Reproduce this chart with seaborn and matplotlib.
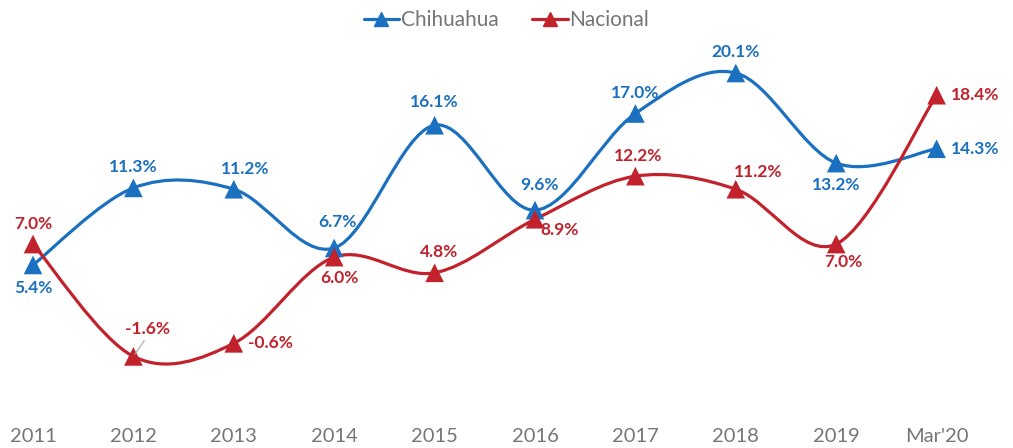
import numpy as np
import pandas as pd
import matplotlib
matplotlib.use("Agg")
import matplotlib.pyplot as plt
from matplotlib.path import Path
from matplotlib.patches import PathPatch
from matplotlib.lines import Line2D
import seaborn as sns

# Growth rates (%) by period
periods = ["2011", "2012", "2013", "2014", "2015", "2016", "2017", "2018", "2019", "Mar'20"]
chihuahua = [5.4, 11.3, 11.2, 6.7, 16.1, 9.6, 17.0, 20.1, 13.2, 14.3]
nacional = [7.0, -1.6, -0.6, 6.0, 4.8, 8.9, 12.2, 11.2, 7.0, 18.4]

BLUE = "#1b70bf"
RED = "#c1222c"
GRAY = "#767676"

sns.set_theme(style="white")
plt.rcParams["font.family"] = ["Lato", "DejaVu Sans"]

fig = plt.figure(figsize=(10.13, 4.48), dpi=100)
ax = fig.add_axes([0, 28 / 448, 1, 420 / 448])

x = np.arange(len(periods))
df = pd.DataFrame({
    "x": np.concatenate([x, x]),
    "value": chihuahua + nacional,
    "serie": ["Chihuahua"] * len(x) + ["Nacional"] * len(x),
})


def smooth_path(xs, ys):
    """Cubic Bezier through every point, tangents from neighbouring points."""
    pts = np.column_stack([xs, ys]).astype(float)
    n = len(pts)
    verts = [pts[0]]
    codes = [Path.MOVETO]
    for i in range(n - 1):
        p0 = pts[max(i - 1, 0)]
        p1 = pts[i]
        p2 = pts[i + 1]
        p3 = pts[min(i + 2, n - 1)]
        c1 = p1 + (p2 - p0) / 6.0
        c2 = p2 - (p3 - p1) / 6.0
        verts += [c1, c2, p2]
        codes += [Path.CURVE4] * 3
    return Path(verts, codes)


for vals, color in [(chihuahua, BLUE), (nacional, RED)]:
    ax.add_patch(PathPatch(smooth_path(x, vals), facecolor="none",
                           edgecolor=color, lw=2.3, zorder=2))

sns.scatterplot(data=df, x="x", y="value", hue="serie",
                palette={"Chihuahua": BLUE, "Nacional": RED},
                marker="^", s=180, edgecolor="none", legend=False,
                ax=ax, zorder=3)

# label offsets in points (dx, dy, ha, va)
lab_c = [(0, -11, "center", "top"), (0, 9, "center", "bottom"),
         (8, 9, "center", "bottom"), (2, 13, "center", "bottom"),
         (0, 11, "center", "bottom"), (3, 12, "center", "bottom"),
         (0, 9, "center", "bottom"), (0, 9, "center", "bottom"),
         (0, -10, "center", "top"), (10, 0, "left", "center")]
lab_n = [(0, 9, "center", "bottom"), (10, 14, "center", "bottom"),
         (10, 0, "left", "center"), (4, -9, "center", "top"),
         (3, 9, "center", "bottom"), (18, -2, "center", "top"),
         (2, 9, "center", "bottom"), (16, 7, "center", "bottom"),
         (5, -7, "center", "top"), (10, 0, "left", "center")]

for vals, labs, color in [(chihuahua, lab_c, BLUE), (nacional, lab_n, RED)]:
    for xi, v, (dx, dy, ha, va) in zip(x, vals, labs):
        ax.annotate(f"{v:.1f}%", (xi, v), xytext=(dx, dy),
                    textcoords="offset points", ha=ha, va=va,
                    color=color, fontsize=12.5, fontweight="bold", zorder=4)

# leader line for the 2012 national value
ax.annotate("", (1, nacional[1]), xytext=(9, 13), textcoords="offset points",
            arrowprops=dict(arrowstyle="-", color="#aaaaaa", lw=0.8))

ax.set_xlim(-33 / 100.4, (1013 - 33) / 100.4)
ax.set_ylim((335.5 - 420) / 13.06, 335.5 / 13.06)
ax.set_xticks(x)
ax.set_xticklabels(periods)
ax.set_yticks([])
ax.tick_params(axis="x", length=0, pad=6, labelsize=14.5, labelcolor=GRAY)
for s in ax.spines.values():
    s.set_visible(False)
ax.set_xlabel("")
ax.set_ylabel("")

handles = [Line2D([], [], color=BLUE, lw=2.3, marker="^", markersize=10),
           Line2D([], [], color=RED, lw=2.3, marker="^", markersize=10)]
leg = fig.legend(handles, ["Chihuahua", "Nacional"], loc="center",
                 bbox_to_anchor=(0.5, 1 - 20 / 448), ncol=2, frameon=False,
                 fontsize=15, handlelength=1.7, handletextpad=0.1,
                 columnspacing=1.6)
for t in leg.get_texts():
    t.set_color(GRAY)

fig.savefig("out.png", dpi=100)
